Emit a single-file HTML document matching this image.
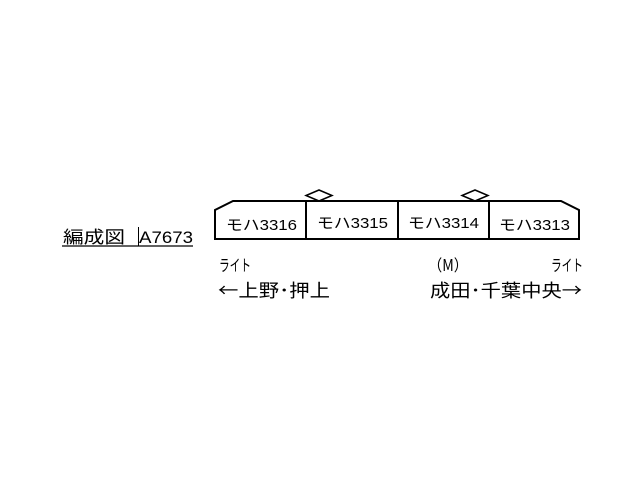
<!DOCTYPE html>
<html><head><meta charset="utf-8"><style>html,body{margin:0;padding:0;background:#fff}svg{display:block}</style></head>
<body>
<svg width="640" height="480" viewBox="0 0 640 480" xmlns="http://www.w3.org/2000/svg" font-family="'Liberation Sans','Noto Sans CJK JP',sans-serif" fill="#000">
<g fill="none" stroke="#000" stroke-width="2">
<path d="M215,239 L215,210 L233,201 L561,201 L579,210 L579,239 Z"/>
<line x1="306" y1="201" x2="306" y2="239"/>
<line x1="398" y1="201" x2="398" y2="239"/>
<line x1="489" y1="201" x2="489" y2="239"/>
<path d="M319,190 L332,195.5 L319,201 L306,195.5 Z" stroke-width="1.5"/>
<path d="M475,190 L488,195.5 L475,201 L462,195.5 Z" stroke-width="1.5"/>
<line x1="62" y1="246" x2="193" y2="246" stroke-width="1.2"/>
<line x1="138.5" y1="227" x2="138.5" y2="246" stroke-width="1"/>
</g>
<g font-size="15">
<text x="226" y="230" textLength="71" lengthAdjust="spacingAndGlyphs">モハ3316</text>
<text x="317" y="228" textLength="71" lengthAdjust="spacingAndGlyphs">モハ3315</text>
<text x="408" y="228" textLength="71" lengthAdjust="spacingAndGlyphs">モハ3314</text>
<text x="499" y="230" textLength="71" lengthAdjust="spacingAndGlyphs">モハ3313</text>
</g>
<text x="63" y="243" font-size="17" textLength="62" lengthAdjust="spacingAndGlyphs">編成図</text>
<text x="139" y="243" font-size="17" textLength="54" lengthAdjust="spacingAndGlyphs">A7673</text>
<g font-size="16" font-family="'Noto Sans CJK JP',sans-serif">
<text x="219" y="271" textLength="32" lengthAdjust="spacingAndGlyphs">ライト</text>
<text x="428" y="271" textLength="40" lengthAdjust="spacingAndGlyphs">（M）</text>
<text x="551" y="271" textLength="32" lengthAdjust="spacingAndGlyphs">ライト</text>
</g>
<g font-size="18" font-family="'Noto Sans CJK JP',sans-serif">
<text x="218" y="297" textLength="112" lengthAdjust="spacingAndGlyphs">←上野･押上</text>
<text x="430" y="297" textLength="152" lengthAdjust="spacingAndGlyphs">成田･千葉中央→</text>
</g>
</svg>
</body></html>
